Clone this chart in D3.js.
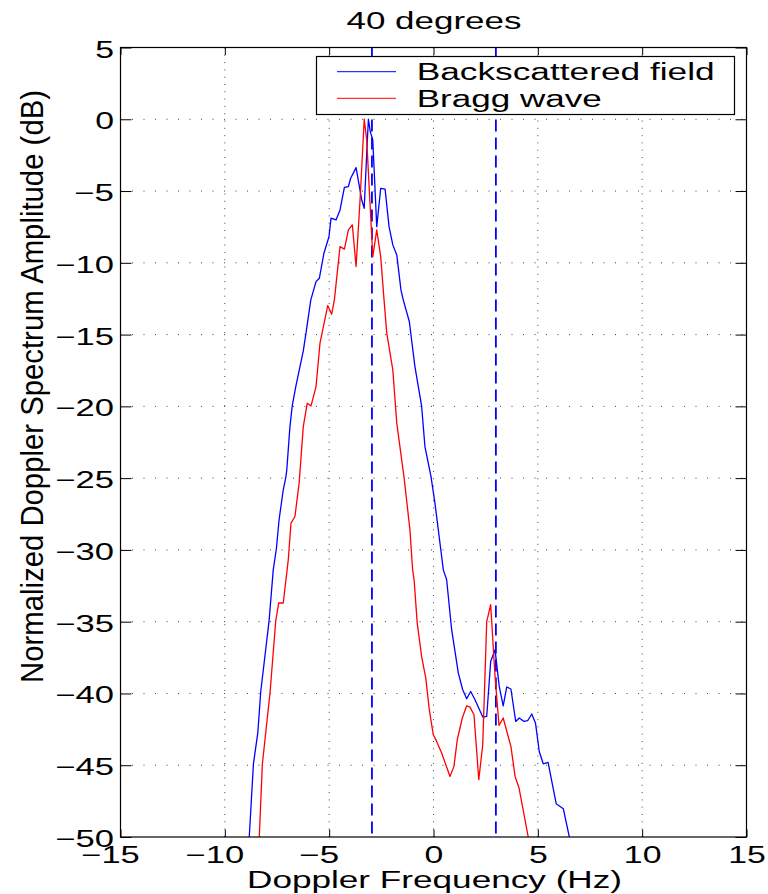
<!DOCTYPE html>
<html><head><meta charset="utf-8">
<script src="https://cdn.jsdelivr.net/npm/d3@7"></script>
<style>html,body{margin:0;padding:0;background:#fff;} svg{display:block;}</style>
</head><body>
<svg id="chart" width="768" height="894"></svg>
<script>
// ---------------- data ----------------
const xTicks = [-15, -10, -5, 0, 5, 10, 15];
const yTicks = [5, 0, -5, -10, -15, -20, -25, -30, -35, -40, -45, -50];
const braggFreqs = [-2.95, 2.99];
const seriesNames = ["Backscattered field", "Bragg wave"];
const titleText = "40 degrees";
const xLabelText = "Doppler Frequency (Hz)";
const yLabelText = "Normalized Doppler Spectrum Amplitude (dB)";

const blueFreq = [-8.83,-8.63,-8.42,-8.28,-7.88,-7.68,-7.53,-7.40,-7.20,-7.08,-7.03,-6.88,-6.77,-6.60,-6.24,-6.11,-5.88,-5.63,-5.47,-5.25,-5.01,-4.91,-4.67,-4.48,-4.27,-4.08,-3.97,-3.71,-3.44,-3.32,-3.20,-3.12,-3.03,-2.91,-2.72,-2.53,-2.32,-2.13,-1.95,-1.76,-1.56,-1.45,-1.16,-0.89,-0.57,-0.41,-0.12,0.07,0.35,0.47,0.63,0.87,1.19,1.40,1.59,1.78,1.99,2.36,2.55,2.74,2.95,3.15,3.34,3.51,3.71,3.94,4.11,4.34,4.51,4.71,4.89,5.07,5.26,5.49,5.88,6.22,6.51];
const blueDb = [-50,-44.90,-42.74,-39.88,-34.94,-31.39,-29.92,-27.90,-25.81,-24.96,-24.42,-21.41,-19.97,-18.62,-16.14,-14.90,-12.58,-11.31,-11.07,-9.33,-8.18,-6.89,-7.01,-6.32,-4.74,-4.69,-4.11,-3.37,-5.62,-6.20,-2.37,0,-0.86,-1.44,-7.48,-4.81,-4.87,-7.48,-8.75,-9.45,-11.89,-12.58,-14.09,-17.23,-19.97,-22.80,-24.89,-26.74,-29.99,-31.39,-32.08,-35.56,-38.58,-39.74,-40.37,-39.86,-40.44,-41.64,-41.60,-37.77,-36.96,-39.51,-40.86,-39.55,-39.69,-41.95,-41.71,-41.95,-41.90,-41.43,-42.08,-44.06,-44.90,-44.80,-47.68,-48.03,-50];

const redFreq = [-8.35,-8.20,-7.83,-7.56,-7.42,-7.20,-6.96,-6.83,-6.64,-6.44,-6.24,-6.05,-5.87,-5.63,-5.44,-5.07,-4.88,-4.75,-4.48,-4.27,-4.08,-3.89,-3.71,-3.52,-3.32,-3.20,-2.91,-2.72,-2.53,-2.37,-2.24,-1.95,-1.76,-1.41,-1.13,-1.00,-0.93,-0.78,-0.57,-0.37,-0.20,-0.01,0.15,0.39,0.79,0.98,1.14,1.38,1.59,1.75,1.94,2.17,2.36,2.55,2.74,2.95,3.14,3.34,3.71,3.91,4.10,4.54];
const redDb = [-50,-44.90,-39.88,-34.94,-33.70,-33.70,-30.69,-28.13,-27.67,-25.35,-21.41,-19.78,-19.97,-18.62,-15.60,-12.98,-13.58,-12.58,-8.87,-9.05,-7.71,-7.36,-10.26,-5.62,0,-1.44,-9.57,-7.71,-9.57,-12.58,-14.90,-17.46,-21.17,-24.96,-28.60,-31.39,-32.08,-35.10,-37.42,-38.93,-41.14,-42.88,-43.34,-44.15,-45.78,-45.08,-43.22,-41.71,-40.86,-40.95,-41.48,-46.01,-43.57,-34.99,-33.82,-38.82,-42.23,-41.71,-43.69,-45.78,-46.59,-50];

// ---------------- layout ----------------
const FONT = "'Liberation Sans', Arial, Helvetica, sans-serif";
const L = 120.5, R = 746.5, T = 47.5, B = 837;
const svg = d3.select("#chart");
svg.append("rect").attr("width", 768).attr("height", 894).attr("fill", "#fff");

const x = d3.scaleLinear().domain([-15, 15]).range([L, R]);
const y = d3.scaleLinear().domain([-50, 5]).range([B, T]);

const DIGIT_W = 18.8, MINUS_W = 21;
function labelInfo(v) {
  const digits = String(Math.abs(v));
  const dw = digits.length * DIGIT_W;
  const neg = v < 0;
  return { str: (neg ? "\u2212" : "") + digits, total: dw + (neg ? MINUS_W : 0), dw, neg };
}

// grid
const grid = svg.append("g");
xTicks.filter(v => v > -15 && v < 15).forEach(v => {
  grid.append("line").attr("x1", x(v)).attr("x2", x(v)).attr("y1", T).attr("y2", B)
    .attr("stroke", "#444").attr("stroke-width", 1).attr("stroke-dasharray", "1,6.3");
});
yTicks.filter(v => v > -50 && v < 5).forEach(v => {
  grid.append("line").attr("x1", L).attr("x2", R).attr("y1", y(v)).attr("y2", y(v))
    .attr("stroke", "#444").attr("stroke-width", 1).attr("stroke-dasharray", "1,10.5");
});

// clip
svg.append("defs").append("clipPath").attr("id", "plotclip")
  .append("rect").attr("x", L).attr("y", T).attr("width", R - L).attr("height", B - T);

const plot = svg.append("g").attr("clip-path", "url(#plotclip)");

// Bragg dashed lines
braggFreqs.forEach(f => {
  plot.append("line").attr("x1", x(f)).attr("x2", x(f)).attr("y1", T).attr("y2", B)
    .attr("stroke", "#0000ff").attr("stroke-width", 1.8).attr("stroke-dasharray", "12,6");
});

const line = d3.line().x(d => x(d[0])).y(d => y(d[1]));
plot.append("path").datum(d3.zip(blueFreq, blueDb)).attr("d", line)
  .attr("fill", "none").attr("stroke", "#0000ff").attr("stroke-width", 1.3).attr("stroke-linejoin", "round");
plot.append("path").datum(d3.zip(redFreq, redDb)).attr("d", line)
  .attr("fill", "none").attr("stroke", "#ff0000").attr("stroke-width", 1.3).attr("stroke-linejoin", "round");

// axes (ticks inward, MATLAB style)
const gxB = svg.append("g").attr("transform", `translate(0,${B})`)
  .call(d3.axisBottom(x).tickValues(xTicks).tickSize(-7.5).tickSizeOuter(0).tickPadding(0));
const gxT = svg.append("g").attr("transform", `translate(0,${T})`)
  .call(d3.axisTop(x).tickValues(xTicks).tickSize(-7.5).tickSizeOuter(0).tickFormat(""));
const gyL = svg.append("g").attr("transform", `translate(${L},0)`)
  .call(d3.axisLeft(y).tickValues(yTicks).tickSize(-11).tickSizeOuter(0).tickPadding(0));
const gyR = svg.append("g").attr("transform", `translate(${R},0)`)
  .call(d3.axisRight(y).tickValues(yTicks).tickSize(-11).tickSizeOuter(0).tickFormat(""));
[gxB, gxT, gyL, gyR].forEach(g => {
  g.select(".domain").remove();
  g.selectAll(".tick line").attr("stroke", "#000").attr("stroke-width", 1);
});

gxB.selectAll(".tick text").each(function(v) {
  const info = labelInfo(v);
  d3.select(this)
    .attr("font-family", FONT).attr("font-size", 23).attr("fill", "#000")
    .attr("dy", null)
    .attr("y", 862.5 - B)
    .attr("x", info.neg ? info.dw / 2 : 0)
    .attr("text-anchor", info.neg ? "end" : "middle")
    .attr("textLength", info.total).attr("lengthAdjust", "spacingAndGlyphs")
    .text(info.str);
});
gyL.selectAll(".tick text").each(function(v) {
  const info = labelInfo(v);
  d3.select(this)
    .attr("font-family", FONT).attr("font-size", 23).attr("fill", "#000")
    .attr("dy", null)
    .attr("x", 114 - L).attr("y", 9.5)
    .attr("text-anchor", "end")
    .attr("textLength", info.total).attr("lengthAdjust", "spacingAndGlyphs")
    .text(info.str);
});

// frame
svg.append("rect").attr("x", L).attr("y", T).attr("width", R - L).attr("height", B - T)
  .attr("fill", "none").attr("stroke", "#000").attr("stroke-width", 1.2);

// legend
const lg = svg.append("g");
lg.append("rect").attr("x", 316.5).attr("y", 56.5).attr("width", 418).attr("height", 58)
  .attr("fill", "#fff").attr("stroke", "#000").attr("stroke-width", 1.2);
const legColors = ["#0000ff", "#ff0000"];
const legRowsY = [71.7, 98.3];
const legBase = [80, 107.3];
const legWidths = [298, 185];
seriesNames.forEach((name, i) => {
  lg.append("line").attr("x1", 337).attr("x2", 396).attr("y1", legRowsY[i]).attr("y2", legRowsY[i])
    .attr("stroke", legColors[i]).attr("stroke-width", 1);
  lg.append("text").attr("x", 416.7).attr("y", legBase[i])
    .attr("font-family", FONT).attr("font-size", 23).attr("fill", "#000")
    .attr("textLength", legWidths[i]).attr("lengthAdjust", "spacingAndGlyphs")
    .text(name);
});

// title & labels
svg.append("text").attr("x", 434).attr("y", 29.3).attr("text-anchor", "middle")
  .attr("font-family", FONT).attr("font-size", 23)
  .attr("textLength", 175).attr("lengthAdjust", "spacingAndGlyphs").text(titleText);
svg.append("text").attr("x", 434.5).attr("y", 887.7).attr("text-anchor", "middle")
  .attr("font-family", FONT).attr("font-size", 23)
  .attr("textLength", 375).attr("lengthAdjust", "spacingAndGlyphs").text(xLabelText);
svg.append("text").attr("transform", "translate(43.3,386.5) rotate(-90)")
  .attr("text-anchor", "middle")
  .attr("font-family", FONT).attr("font-size", 31)
  .attr("textLength", 593).attr("lengthAdjust", "spacingAndGlyphs").text(yLabelText);
</script>
</body></html>
